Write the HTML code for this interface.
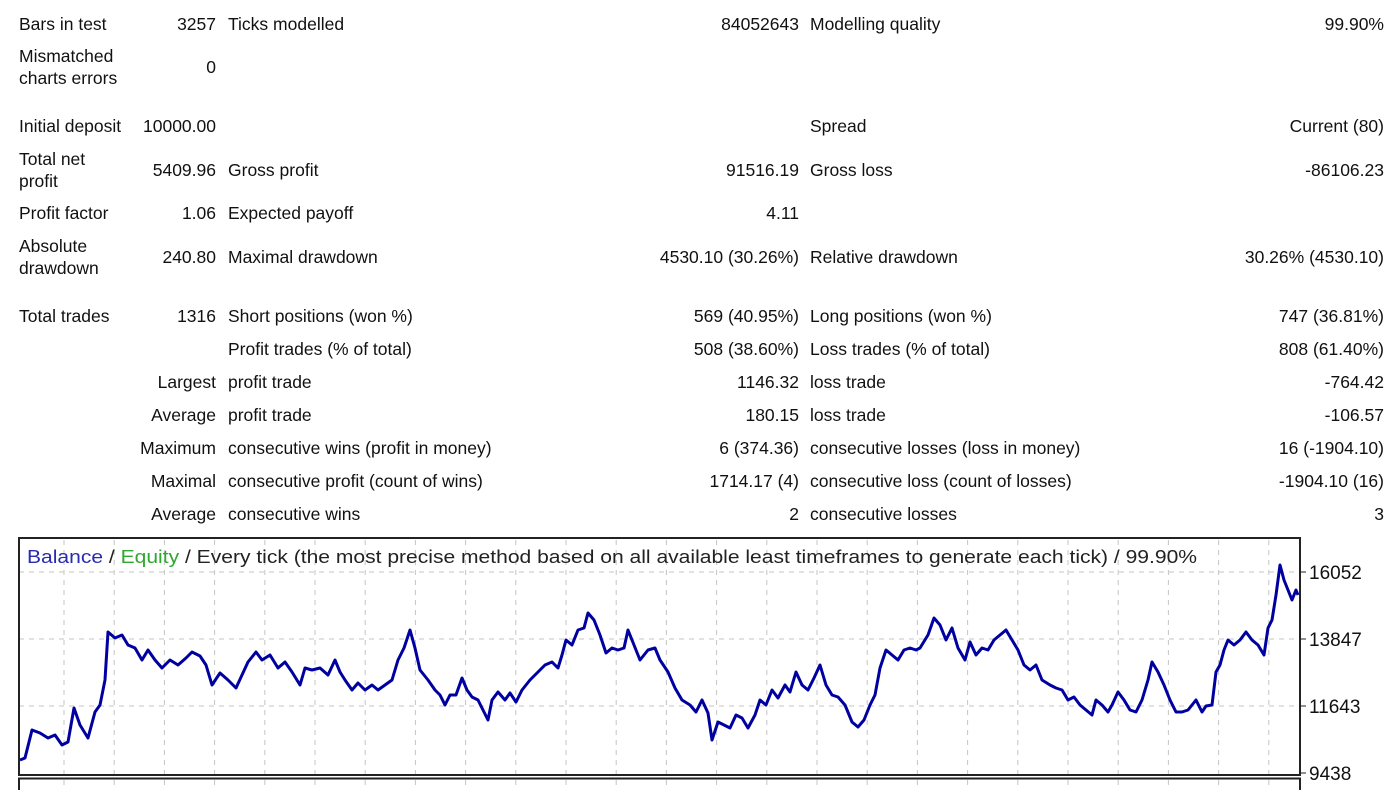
<!DOCTYPE html>
<html><head><meta charset="utf-8"><style>
html,body{margin:0;padding:0;background:#fff;width:1400px;height:790px;overflow:hidden;position:relative}
.t{position:absolute;font-family:"Liberation Sans",sans-serif;font-size:17.5px;color:#111;line-height:22px;white-space:nowrap}
.r{text-align:right}
</style></head><body>
<div id="table"></div>
<svg id="chart" width="1400" height="790" style="position:absolute;left:0;top:0" xmlns="http://www.w3.org/2000/svg"></svg>
<script>
var rows=[
[24,"Bars in test","3257","Ticks modelled","84052643","Modelling quality","99.90%"],
[67,"Mismatched<br>charts errors","0","","","",""],
[126,"Initial deposit","10000.00","","","Spread","Current (80)"],
[170,"Total net<br>profit","5409.96","Gross profit","91516.19","Gross loss","-86106.23"],
[213,"Profit factor","1.06","Expected payoff","4.11","",""],
[257,"Absolute<br>drawdown","240.80","Maximal drawdown","4530.10 (30.26%)","Relative drawdown","30.26% (4530.10)"],
[316,"Total trades","1316","Short positions (won %)","569 (40.95%)","Long positions (won %)","747 (36.81%)"],
[349,"","","Profit trades (% of total)","508 (38.60%)","Loss trades (% of total)","808 (61.40%)"],
[382,"","Largest","profit trade","1146.32","loss trade","-764.42"],
[415,"","Average","profit trade","180.15","loss trade","-106.57"],
[448,"","Maximum","consecutive wins (profit in money)","6 (374.36)","consecutive losses (loss in money)","16 (-1904.10)"],
[481,"","Maximal","consecutive profit (count of wins)","1714.17 (4)","consecutive loss (count of losses)","-1904.10 (16)"],
[514,"","Average","consecutive wins","2","consecutive losses","3"]];
var tb=document.getElementById('table');
function cell(txt,cls,style,name){
  if(!txt)return;
  var d=document.createElement('div');
  d.className='t '+cls;
  d.setAttribute('style',style);
  d.innerHTML=txt;
  
  
  tb.appendChild(d);
}
rows.forEach(function(r){
  var two=r[1].indexOf('<br>')>=0;
  var top=r[0]-11;
  cell(r[1],'', 'left:19px;top:'+(two?r[0]-22:top)+'px','stat-label');
  cell(r[2],'r','right:1184px;top:'+top+'px','stat-value');
  cell(r[3],'','left:228px;top:'+top+'px','stat-label');
  cell(r[4],'r','right:601px;top:'+top+'px','stat-value');
  cell(r[5],'','left:810px;top:'+top+'px','stat-label');
  cell(r[6],'r','right:16px;top:'+top+'px','stat-value');
});
</script>
<script>
var barIndex=[20,25,32,40,48,55,62,68,74,80,88,95,100,105,108,115,122,128,135,142,148,155,162,170,178,186,192,200,206,212,220,228,236,242,248,256,262,270,278,285,292,300,305,312,320,328,335,340,345,352,358,365,372,378,385,392,398,404,410,415,420,428,435,440,445,450,456,462,467,472,478,484,488,492,498,505,510,516,522,530,538,545,552,558,562,566,572,578,584,588,594,600,606,612,618,624,628,634,640,648,655,660,668,675,682,690,696,702,708,712,718,724,730,736,742,748,755,760,766,772,778,785,790,796,802,808,814,820,826,832,838,845,852,858,864,870,875,880,886,892,898,904,910,916,920,928,934,940,946,952,958,965,970,976,982,988,994,1000,1006,1012,1018,1024,1030,1036,1042,1050,1056,1062,1068,1074,1080,1086,1092,1096,1102,1108,1112,1118,1124,1130,1136,1142,1148,1152,1158,1164,1170,1176,1182,1188,1196,1202,1206,1212,1216,1220,1224,1228,1234,1240,1246,1252,1258,1264,1268,1272,1276,1280,1284,1288,1292,1296,1298];
var balance=[9866,9932,10853,10754,10590,10688,10359,10458,11577,11017,10590,11445,11675,12498,14077,13880,13978,13649,13551,13156,13485,13156,12893,13156,12991,13222,13419,13287,12991,12333,12728,12498,12235,12662,13090,13419,13156,13320,12893,13090,12761,12333,12893,12827,12893,12662,13156,12761,12498,12169,12399,12169,12333,12169,12333,12498,13156,13551,14143,13551,12827,12498,12169,12004,11675,12004,12004,12564,12169,11938,11840,11445,11182,11840,12103,11840,12070,11774,12169,12498,12761,12991,13090,12893,13320,13814,13649,14143,14209,14702,14472,13978,13386,13551,13485,13551,14143,13649,13156,13485,13551,13156,12761,12235,11840,11675,11445,11840,11412,10524,11116,11017,10919,11346,11248,10919,11346,11840,11675,12169,11906,12333,12103,12761,12333,12169,12564,12991,12333,12004,11938,11675,11116,10951,11182,11675,12004,12893,13485,13320,13156,13485,13551,13485,13551,13978,14538,14307,13814,14209,13551,13156,13748,13320,13551,13485,13814,13978,14143,13814,13485,12991,12827,12991,12498,12333,12235,12169,11840,11938,11675,11511,11346,11840,11675,11445,11675,12103,11840,11511,11445,11840,12498,13090,12761,12333,11840,11445,11445,11511,11840,11445,11642,11675,12761,12991,13485,13814,13649,13814,14077,13814,13649,13320,14209,14472,15294,16281,15788,15459,15130,15459,15294];
var yTicks=[9438,11643,13847,16052];
var yTickLabels=["9438","11643","13847","16052"];
var NS='http://www.w3.org/2000/svg';
var svg=document.getElementById('chart');
var L=19,R=1300,T=538,B=775;
function xScale(i){var a=barIndex[0],b=barIndex[barIndex.length-1];return 20+(i-a)/(b-a)*(1298-20);}
function yScale(v){return 773-(v-yTicks[0])/(yTicks[3]-yTicks[0])*(773-572);}
function mk(tag,attrs,parent){var e=document.createElementNS(NS,tag);for(var k in attrs)e.setAttribute(k,attrs[k]);(parent||svg).appendChild(e);return e;}
var bp=mk('rect',{x:L,y:778.5,width:R-L,height:30,fill:'#fff',stroke:'#222','stroke-width':2});


for(var gx=64;gx<R-20;gx+=50.2){
  var vl=mk('line',{x1:gx,x2:gx,y1:T+2,y2:790,stroke:'#c4c4c4','stroke-dasharray':'5,5','stroke-width':1});
  
  
}
yTicks.forEach(function(v,i){
  var y=yScale(v);
  if(i>0){
    var hl=mk('line',{x1:L,x2:R,y1:y,y2:y,stroke:'#c4c4c4','stroke-dasharray':'5,5','stroke-width':1});
    
    
  }
  var tk=mk('line',{x1:R,x2:R+6,y1:y,y2:y,stroke:'#222','stroke-width':1});
  
  
  var tx=mk('text',{x:R+9,y:y+7,'font-family':'Liberation Sans, sans-serif','font-size':'19',fill:'#111'});
  tx.textContent=yTickLabels[i];
  
  
});
var fr=mk('rect',{x:L,y:T,width:R-L,height:B-T,fill:'none',stroke:'#222','stroke-width':2});


var tt=mk('text',{x:27,y:563,'font-family':'Liberation Sans, sans-serif','font-size':'18.5',fill:'#222',textLength:1170,lengthAdjust:'spacingAndGlyphs'});


var s1=mk('tspan',{fill:'#2a2ab0'},tt);s1.textContent='Balance';
var s2=mk('tspan',{},tt);s2.textContent=' / ';
var s3=mk('tspan',{fill:'#2fa82f'},tt);s3.textContent='Equity';
var s4=mk('tspan',{},tt);s4.textContent=' / Every tick (the most precise method based on all available least timeframes to generate each tick) / 99.90%';
var n=Math.min(barIndex.length,balance.length),pts=[];
for(var i=0;i<n;i++)pts.push(xScale(barIndex[i]).toFixed(1)+','+yScale(balance[i]).toFixed(1));
var pl=mk('polyline',{points:pts.join(' '),fill:'none',stroke:'#0000a0','stroke-width':3,'stroke-linejoin':'round'});


</script>
</body></html>
